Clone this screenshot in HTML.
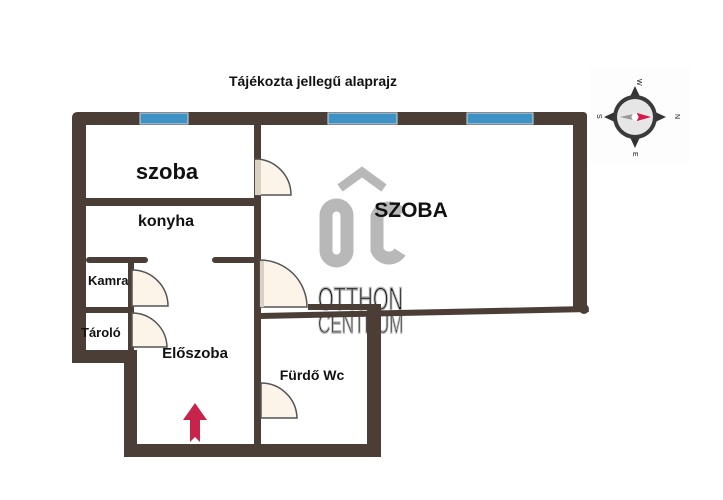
<!DOCTYPE html>
<html><head><meta charset="utf-8"><style>
html,body{margin:0;padding:0;background:#fff;}
svg{display:block;}
text{font-family:"Liberation Sans",sans-serif;font-weight:bold;fill:#111;}
</style></head><body>
<svg width="723" height="500" viewBox="0 0 723 500" xmlns="http://www.w3.org/2000/svg">
<rect width="723" height="500" fill="#fff"/>
<!-- watermark -->
<g fill="none" stroke="#b8b8b8">
<polyline points="340,188 362,172 384,188" stroke-width="9"/>
<rect x="326" y="205" width="21" height="56" rx="10.5" stroke-width="13"/>
<path d="M400,214 A13,13 0 0 0 377,216 V250 A13,13 0 0 0 400,252" stroke-width="13"/>
</g>
<text x="0" y="0" font-size="32" fill="#b8b8b8" stroke="#b8b8b8" stroke-width="1.5" style="font-weight:normal" transform="translate(318,310) scale(0.63,1)">OTTHON</text>
<text x="0" y="0" font-size="28" fill="#b8b8b8" stroke="#b8b8b8" stroke-width="1.5" style="font-weight:normal" transform="translate(318,333) scale(0.61,1)">CENTRUM</text>
<!-- walls -->
<g fill="#4b3e37">
<path d="M78,112 H583 Q587,112 587,116 V310 H573 V125 H86 V350 H72 V118 Q72,112 78,112Z"/>
<rect x="72" y="350" width="65" height="13"/>
<rect x="124" y="350" width="13" height="107"/>
<rect x="124" y="444" width="257" height="13"/>
<rect x="367" y="304" width="14" height="153"/>
<rect x="254" y="120" width="7" height="330"/>
<rect x="86" y="198" width="168" height="8"/>
<rect x="86" y="257" width="62" height="6" rx="3"/>
<rect x="212" y="257" width="44" height="6" rx="3"/>
<rect x="128" y="263" width="6" height="90"/>
<rect x="86" y="307" width="46" height="6"/>
<rect x="308" y="304" width="73" height="6"/>
<polygon points="260,313 587,306 589,312 260,319"/>
<circle cx="584" cy="309" r="5"/>
</g>
<!-- windows -->
<g fill="#3f92c4" stroke="#cfd8de" stroke-width="1">
<rect x="140" y="113" width="48" height="11"/>
<rect x="328" y="113" width="69" height="11"/>
<rect x="467" y="113" width="66" height="11"/>
</g>
<!-- doors -->
<g fill="#fcf4e8" stroke="#555" stroke-width="1.5">
<path d="M255,195 V159 A36,36 0 0 1 291,195 Z"/>
<path d="M260,307 V260 A47,47 0 0 1 307,307 Z"/>
<path d="M132,306 V270 A36,36 0 0 1 168,306 Z"/>
<path d="M132,347 V313 A35,35 0 0 1 167,347 Z"/>
<path d="M261,418 V383 A36,36 0 0 1 297,418 Z"/>
</g>
<g fill="#d9cfc2"><rect x="255" y="160" width="6" height="35"/><rect x="260" y="261" width="4" height="46"/></g>
<!-- arrow -->
<polygon points="195,403 207,420 200,420 200,442 195,437 190,442 190,420 183,420" fill="#c8234a"/>
<!-- labels -->
<text x="313" y="86" font-size="14" text-anchor="middle">Tájékozta jellegű alaprajz</text>
<text x="167" y="179" font-size="22" text-anchor="middle">szoba</text>
<text x="166" y="226" font-size="16" text-anchor="middle">konyha</text>
<text x="411" y="217" font-size="21" text-anchor="middle">SZOBA</text>
<text x="88" y="285" font-size="13">Kamra</text>
<text x="81" y="337" font-size="13">Tároló</text>
<text x="195" y="358" font-size="15" text-anchor="middle">Előszoba</text>
<text x="312" y="380" font-size="14" text-anchor="middle">Fürdő Wc</text>
<!-- compass -->
<rect x="590" y="68" width="100" height="95" fill="#fdfdfd"/>
<g transform="translate(635,117)">
<polygon points="0,-31 6,-18 -6,-18" fill="#333"/>
<polygon points="0,31 6,18 -6,18" fill="#333"/>
<polygon points="31,0 18,6 18,-6" fill="#333"/>
<polygon points="-31,0 -18,6 -18,-6" fill="#333"/>
<circle r="22" fill="#3a3a3a"/>
<circle r="18" fill="#e6e6e6"/>
<polygon points="-15,0 -2,-3 -2,3" fill="#999"/>
<polygon points="16,0 2,-4 2,4" fill="#d4194a"/>
<circle r="3.5" fill="#fff"/>
<text x="0" y="0" font-size="7" transform="translate(2,-38) rotate(90)" style="font-weight:normal" fill="#555">W</text>
<text x="0" y="0" font-size="7" transform="translate(40,-3) rotate(90)" style="font-weight:normal" fill="#555">N</text>
<text x="0" y="0" font-size="7" transform="translate(-2,35) rotate(90)" style="font-weight:normal" fill="#555">E</text>
<text x="0" y="0" font-size="7" transform="translate(-38,-3) rotate(90)" style="font-weight:normal" fill="#555">S</text>
</g>
</svg>
</body></html>
